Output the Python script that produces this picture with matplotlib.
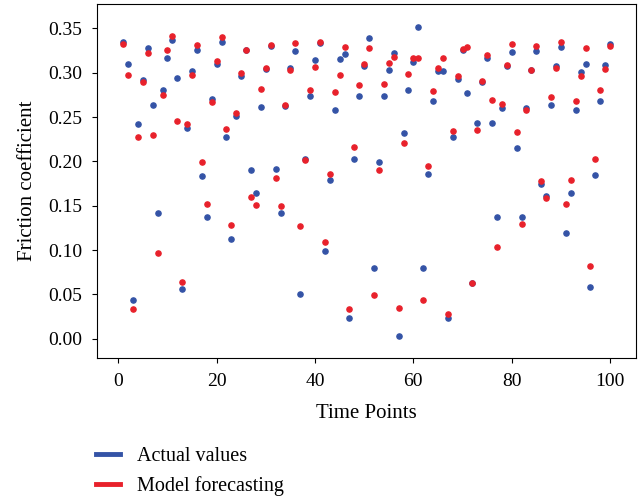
import matplotlib.pyplot as plt
import numpy as np

plt.rcParams['font.family'] = ['Liberation Serif', 'DejaVu Serif']

# Datos (puntos de tiempo 1..100)
tiempo = np.arange(1, 101)

reales = [0.335, 0.310, 0.044, 0.242, 0.292, 0.328, 0.264, 0.142, 0.281, 0.316,
          0.337, 0.294, 0.056, 0.238, 0.302, 0.325, 0.183, 0.137, 0.270, 0.310,
          0.335, 0.228, 0.112, 0.251, 0.296, 0.326, 0.190, 0.164, 0.261, 0.304,
          0.330, 0.191, 0.142, 0.262, 0.305, 0.324, 0.051, 0.203, 0.274, 0.314,
          0.333, 0.099, 0.179, 0.258, 0.315, 0.321, 0.023, 0.203, 0.274, 0.308,
          0.339, 0.080, 0.199, 0.274, 0.303, 0.322, 0.003, 0.232, 0.280, 0.312,
          0.352, 0.080, 0.186, 0.268, 0.302, 0.302, 0.023, 0.227, 0.293, 0.325,
          0.277, 0.063, 0.243, 0.290, 0.316, 0.243, 0.137, 0.260, 0.308, 0.323,
          0.215, 0.137, 0.260, 0.303, 0.324, 0.175, 0.161, 0.264, 0.308, 0.329,
          0.119, 0.164, 0.258, 0.301, 0.310, 0.058, 0.185, 0.268, 0.309, 0.332]

pronostico = [0.332, 0.297, 0.034, 0.227, 0.290, 0.322, 0.230, 0.097, 0.275, 0.326,
              0.341, 0.245, 0.064, 0.242, 0.297, 0.331, 0.199, 0.152, 0.267, 0.313,
              0.340, 0.236, 0.128, 0.255, 0.300, 0.326, 0.160, 0.151, 0.282, 0.305,
              0.331, 0.181, 0.150, 0.263, 0.303, 0.333, 0.127, 0.201, 0.280, 0.306,
              0.334, 0.109, 0.186, 0.278, 0.297, 0.329, 0.034, 0.216, 0.286, 0.310,
              0.328, 0.049, 0.190, 0.287, 0.311, 0.318, 0.035, 0.221, 0.298, 0.316,
              0.316, 0.044, 0.195, 0.279, 0.305, 0.316, 0.028, 0.234, 0.296, 0.327,
              0.329, 0.063, 0.235, 0.291, 0.320, 0.269, 0.104, 0.265, 0.309, 0.332,
              0.233, 0.129, 0.258, 0.303, 0.330, 0.178, 0.159, 0.273, 0.305, 0.334,
              0.152, 0.179, 0.268, 0.296, 0.328, 0.082, 0.203, 0.280, 0.304, 0.330]

azul = '#3453a6'
rojo = '#e8212b'

fig = plt.figure(figsize=(6.4, 4.96), dpi=100)
ax = fig.add_axes([0.151, 0.278, 0.843, 0.714])

ax.scatter(tiempo, reales, s=14, color=azul, zorder=2)
ax.scatter(tiempo, pronostico, s=14, color=rojo, zorder=3)

ax.set_xlim(-4.4, 105.3)
ax.set_ylim(-0.0217, 0.3774)
ax.set_yticks(np.arange(0, 0.351, 0.05))
ax.set_yticklabels([f'{v:.2f}' for v in np.arange(0, 0.351, 0.05)])
ax.set_xticks([0, 20, 40, 60, 80, 100])
ax.tick_params(labelsize=14, pad=7)
ax.set_xlabel('Time Points', fontsize=15, labelpad=10)
ax.set_ylabel('Friction coefficient', fontsize=15, labelpad=8)

manijas = [plt.Line2D([], [], color=azul, lw=3.5), plt.Line2D([], [], color=rojo, lw=3.5)]
fig.legend(manijas, ['Actual values', 'Model forecasting'], loc='upper left',
           bbox_to_anchor=(96 / 640, 1 - 447 / 496), frameon=False, fontsize=14.5,
           borderpad=0, borderaxespad=0, handlelength=1.2, handletextpad=0.85,
           labelspacing=0.48)

plt.savefig('out.png', dpi=100)
